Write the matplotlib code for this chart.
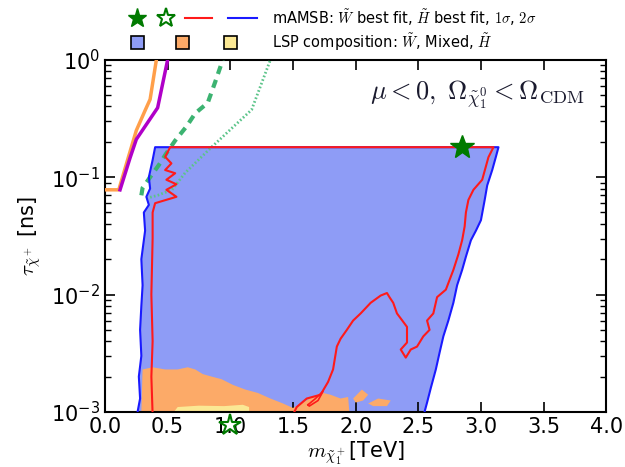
import numpy as np
import matplotlib.pyplot as plt
from matplotlib.patches import Polygon, Rectangle
from matplotlib.lines import Line2D

# --- data (m_chi1+ in TeV, tau in ns) ---
# outer (2 sigma) contour, blue
blue_m = [0.26, 0.28, 0.27, 0.29, 0.28, 0.29, 0.30, 0.29, 0.32, 0.31, 0.35, 0.33,
          0.36, 0.35, 0.38, 0.40, 3.14, 3.12, 3.09, 3.05, 3.03, 3.00, 2.96, 2.92,
          2.88, 2.85, 2.81, 2.78, 2.74, 2.70, 2.67, 2.64, 2.60, 2.57, 2.55]
blue_tau = [0.001, 0.0013, 0.002, 0.003, 0.005, 0.008, 0.012, 0.02, 0.035, 0.05,
            0.058, 0.068, 0.08, 0.1, 0.14, 0.18, 0.18, 0.15, 0.115, 0.085, 0.064,
            0.043, 0.035, 0.029, 0.021, 0.0162, 0.012, 0.0085, 0.006, 0.0044,
            0.0032, 0.0023, 0.0016, 0.0012, 0.001]

# inner (1 sigma) contour, red
red_m = [0.38, 0.37, 0.38, 0.37, 0.38, 0.38, 0.40, 0.57, 0.49, 0.57, 0.49, 0.56,
         0.48, 0.53, 0.48, 0.52, 3.10, 3.06, 3.01, 2.94, 2.90, 2.88, 2.87, 2.85,
         2.82, 2.78, 2.72, 2.65, 2.62, 2.57, 2.59, 2.54, 2.49, 2.44, 2.40, 2.36,
         2.41, 2.41, 2.33, 2.30, 2.27, 2.25, 2.20, 2.12, 2.04, 1.98, 1.93, 1.88,
         1.85, 1.82, 1.78, 1.72, 1.61, 1.53, 1.50, 0.38]
red_tau = [0.00095, 0.002, 0.004, 0.01, 0.03, 0.05, 0.06, 0.068, 0.078, 0.087,
           0.095, 0.108, 0.115, 0.131, 0.149, 0.18, 0.18, 0.148, 0.095, 0.078,
           0.064, 0.05, 0.038, 0.029, 0.022, 0.0162, 0.011, 0.0095, 0.0069, 0.006,
           0.005, 0.0044, 0.0036, 0.0034, 0.0029, 0.0034, 0.0039, 0.0053, 0.0069,
           0.0085, 0.0095, 0.0103, 0.0098, 0.0085, 0.0069, 0.006, 0.005, 0.0042,
           0.0036, 0.0023, 0.0018, 0.0014, 0.0013, 0.0011, 0.00095, 0.00095]
red_loop_m = [1.62, 1.68, 1.74, 1.70, 1.63, 1.62]
red_loop_tau = [0.00115, 0.0013, 0.0015, 0.00125, 0.00112, 0.00115]

# mixed LSP region (orange)
orange_m = [0.29, 0.30, 0.38, 0.48, 0.58, 0.66, 0.72, 0.78, 0.85, 0.93, 1.02,
            1.12, 1.22, 1.32, 1.42, 1.50, 1.58, 1.66, 1.73, 1.80, 1.88, 1.94, 1.95]
orange_tau = [0.001, 0.0023, 0.0024, 0.0023, 0.0023, 0.0024, 0.0023, 0.0021,
              0.002, 0.0019, 0.0017, 0.00155, 0.00145, 0.0013, 0.00118, 0.00108,
              0.0012, 0.00135, 0.00146, 0.0014, 0.0013, 0.00134, 0.001]
orange_blobs = [([1.98, 2.05, 2.10, 2.06, 2.00], [0.0013, 0.00155, 0.0014, 0.00125, 0.0012]),
                ([2.10, 2.18, 2.28, 2.25, 2.14], [0.00118, 0.0013, 0.00125, 0.00112, 0.00112])]

# higgsino-like LSP region (yellow)
yellow_m = [0.55, 0.58, 0.75, 0.95, 1.10, 1.15, 1.15]
yellow_tau = [0.001, 0.0011, 0.00113, 0.00112, 0.00115, 0.0011, 0.001]

# limit curves
orange_line_m = [0.0, 0.11, 0.18, 0.25, 0.32, 0.36, 0.41]
orange_line_tau = [0.078, 0.078, 0.14, 0.25, 0.37, 0.46, 1.0]
purple_m = [0.12, 0.20, 0.25, 0.42, 0.50]
purple_tau = [0.078, 0.146, 0.21, 0.39, 1.0]
green_dash_m = [0.29, 0.30, 0.36, 0.43, 0.49, 0.56, 0.65, 0.72, 0.82, 0.88, 0.94]
green_dash_tau = [0.07, 0.081, 0.1, 0.127, 0.16, 0.205, 0.27, 0.35, 0.43, 0.65, 1.0]
green_dot_m = [0.33, 0.42, 0.535, 0.64, 0.85, 1.17, 1.32]
green_dot_tau = [0.066, 0.07, 0.078, 0.109, 0.18, 0.375, 1.0]

# best-fit points
bf_W = (2.85, 0.18)
bf_H = (1.0, 0.00077)

C_BLUE_FILL = '#8e9cf6'
C_ORANGE = '#fcaa68'
C_YELLOW = '#fbe894'

fig = plt.figure(figsize=(6.25, 4.67), dpi=100)
ax = fig.add_axes([0.168, 0.118, 0.802, 0.754])

ax.add_patch(Polygon(np.column_stack([blue_m, blue_tau]), closed=True,
                     facecolor=C_BLUE_FILL, edgecolor='none', zorder=1))
ax.add_patch(Polygon(np.column_stack([orange_m, orange_tau]), closed=True,
                     facecolor=C_ORANGE, edgecolor='none', zorder=2))
for bm, bt in orange_blobs:
    ax.add_patch(Polygon(np.column_stack([bm, bt]), closed=True,
                         facecolor=C_ORANGE, edgecolor='none', zorder=2))
ax.add_patch(Polygon(np.column_stack([yellow_m, yellow_tau]), closed=True,
                     facecolor=C_YELLOW, edgecolor='none', zorder=2))

ax.plot(blue_m, blue_tau, color='#1a1aff', lw=1.5, zorder=4)
ax.plot(red_m, red_tau, color='#ff1a1a', lw=1.5, zorder=5)
ax.plot(red_loop_m, red_loop_tau, color='#ff1a1a', lw=1.2, zorder=5)

ax.plot(orange_line_m, orange_line_tau, color='#ff9f4a', lw=2.5, zorder=3)
ax.plot(purple_m, purple_tau, color='#b000c8', lw=2.5, zorder=3)
ax.plot(green_dash_m, green_dash_tau, color='#3cb371', lw=3, ls=(0, (2, 1.5)), zorder=3)
ax.plot(green_dot_m, green_dot_tau, color='#5cc48a', lw=2, ls=(0, (0.6, 0.8)), zorder=3)

ax.plot(*bf_W, marker='*', ms=18, color='#007a00', mec='#007a00', zorder=6)
ax.plot(*bf_H, marker='*', ms=16, mfc='white', mec='#007a00', mew=1.5,
        zorder=6, clip_on=False)

ax.set_yscale('log')
ax.set_xlim(0, 4.0)
ax.set_ylim(1e-3, 1.0)
ax.set_xticks(np.arange(0, 4.01, 0.5))
ax.set_xticklabels([f'{v:.1f}' for v in np.arange(0, 4.01, 0.5)])
ax.tick_params(which='both', direction='in', top=True, right=True, labelsize=15)
ax.tick_params(which='major', length=7, width=1.2)
ax.tick_params(which='minor', length=4, width=1)
for s in ax.spines.values():
    s.set_linewidth(1.5)

ax.set_xlabel(r'$m_{\tilde{\chi}_1^+}$[TeV]', fontsize=15, math_fontfamily='cm', labelpad=2)
ax.set_ylabel(r'$\tau_{\tilde{\chi}^+}$ [ns]', fontsize=15, math_fontfamily='cm', labelpad=6)

ax.text(0.958, 0.90, r'$\mu < 0,\; \Omega_{\tilde{\chi}^0_1} < \Omega_{\rm CDM}$',
        transform=ax.transAxes, ha='right', va='center', fontsize=19,
        math_fontfamily='cm', color='#1a1a2e')

# legend drawn on an overlay in pixel coordinates
lg = fig.add_axes([0, 0, 1, 1], facecolor='none')
lg.set_xlim(0, 625)
lg.set_ylim(467, 0)
lg.axis('off')
lg.plot(137, 18, marker='*', ms=14, color='#007a00')
lg.plot(166, 18, marker='*', ms=14, mfc='white', mec='#007a00', mew=1.5)
lg.add_line(Line2D([185, 212], [18, 18], color='#ff1a1a', lw=1.5))
lg.add_line(Line2D([228, 257], [18, 18], color='#1a1aff', lw=1.5))
for xc, c in zip([137, 182, 230], [C_BLUE_FILL, C_ORANGE, C_YELLOW]):
    lg.add_patch(Rectangle((xc - 6.5, 42 - 6.5), 13, 13, facecolor=c,
                           edgecolor='black', lw=1.2))
lg.text(272, 18, r'mAMSB: $\tilde{W}$ best fit, $\tilde{H}$ best fit, $1\sigma$, $2\sigma$',
        fontsize=10.5, va='center', ha='left', math_fontfamily='cm')
lg.text(272, 42, r'LSP composition: $\tilde{W}$, Mixed, $\tilde{H}$',
        fontsize=10.5, va='center', ha='left', math_fontfamily='cm')

fig.savefig('out.png', dpi=100)
